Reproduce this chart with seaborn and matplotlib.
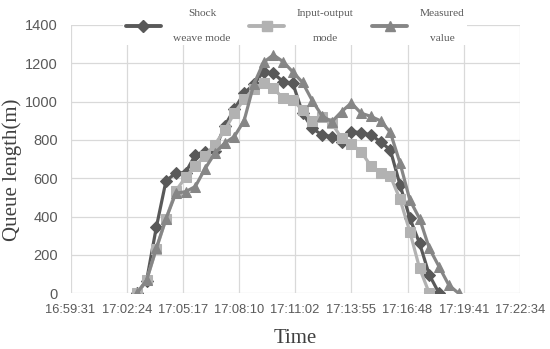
import matplotlib
matplotlib.use("Agg")
import matplotlib.pyplot as plt
import seaborn as sns
import pandas as pd
from matplotlib.lines import Line2D

# ---------------- data ----------------
times = ["17:02:55", "17:03:25", "17:03:55", "17:04:25", "17:04:55", "17:05:25",
         "17:05:55", "17:06:25", "17:06:55", "17:07:25", "17:07:55", "17:08:25",
         "17:08:55", "17:09:25", "17:09:55", "17:10:25", "17:10:55", "17:11:25",
         "17:11:55", "17:12:25", "17:12:55", "17:13:25", "17:13:55", "17:14:25",
         "17:14:55", "17:15:25", "17:15:55", "17:16:25", "17:16:55", "17:17:25",
         "17:17:55", "17:18:25", "17:18:55", "17:19:25"]

shock_wave = [0, 65, 344, 588, 626, 630, 722, 739, 745, 873, 960, 1044, 1090, 1157,
              1148, 1105, 1096, 941, 861, 826, 818, 791, 844, 838, 826, 791, 748,
              565, 392, 261, 96, 0]
input_output = [0, 68, 231, 388, 535, 605, 665, 718, 776, 850, 940, 1012, 1068, 1096,
                1070, 1018, 1009, 955, 900, 922, 888, 809, 778, 739, 665, 630, 612,
                490, 322, 131, 0]
measured = [0, 68, 235, 390, 522, 530, 557, 650, 731, 783, 818, 900, 1090, 1205,
            1244, 1209, 1155, 1100, 1005, 926, 895, 948, 993, 940, 923, 900, 840,
            679, 487, 390, 235, 139, 43, 0]

x_tick_labels = ["16:59:31", "17:02:24", "17:05:17", "17:08:10", "17:11:02",
                 "17:13:55", "17:16:48", "17:19:41", "17:22:34"]
y_ticks = [0, 200, 400, 600, 800, 1000, 1200, 1400]

series_names = ["Shock\n\nweave mode", "Input-output\n\nmode", "Measured\n\nvalue"]


def to_sec(s):
    h, m, sec = s.split(":")
    return int(h) * 3600 + int(m) * 60 + int(sec)


t_sec = [to_sec(t) for t in times]
tick_sec = [to_sec(t) for t in x_tick_labels]

# ---------------- styling ----------------
sns.set_theme(style="white")
plt.rcParams["font.family"] = ["Liberation Sans", "DejaVu Sans"]

fig = plt.figure(figsize=(5.5, 3.49), dpi=100)
ax = fig.add_axes([70.5 / 550, 1 - 293.3 / 349, (520 - 70.5) / 550, (293.3 - 25) / 349])

styles = [
    dict(values=shock_wave, color="#595959", marker="D", ms=6.3),
    dict(values=input_output, color="#B2B2B2", marker="s", ms=7.2),
    dict(values=measured, color="#868686", marker="^", ms=7.8),
]

handles = []
for name, st in zip(series_names, styles):
    n = len(st["values"])
    df = pd.DataFrame({"t": t_sec[:n], "v": st["values"]})
    sns.lineplot(data=df, x="t", y="v", ax=ax, color=st["color"], linewidth=2.3,
                 marker=st["marker"], markersize=st["ms"],
                 markeredgecolor=st["color"], markerfacecolor=st["color"],
                 estimator=None, sort=False)
    handles.append(Line2D([0], [0], color=st["color"], lw=2.8, marker=st["marker"],
                          markersize=st["ms"], markeredgecolor=st["color"],
                          markerfacecolor=st["color"]))

ax.set_xlim(tick_sec[0], tick_sec[-1])
ax.set_ylim(0, 1400)
ax.set_xticks(tick_sec)
ax.set_xticklabels(x_tick_labels, fontsize=9.3, color="#595959")
ax.set_yticks(y_ticks)
ax.set_yticklabels([str(v) for v in y_ticks], fontsize=10.5, color="#595959")
ax.tick_params(axis="both", length=0)
ax.tick_params(axis="x", pad=8)
ax.tick_params(axis="y", pad=9)

ax.grid(True, color="#D9D9D9", linewidth=0.9)
ax.set_axisbelow(True)
for sp in ax.spines.values():
    sp.set_visible(False)

serif = ["Liberation Serif", "DejaVu Serif"]
ax.set_xlabel("Time", fontsize=15, family=serif, color="#404040", labelpad=9)
ax.set_ylabel("Queue length(m)", fontsize=15, family=serif, color="#404040")
ax.yaxis.set_label_coords((22 - 70.5) / 449.5, 0.46)

leg = ax.legend(handles, series_names, ncol=3, loc="center",
                bbox_to_anchor=(295 / 550, 1 - 26 / 349),
                bbox_transform=fig.transFigure,
                frameon=True, facecolor="white", edgecolor="none", framealpha=1,
                prop={"family": serif, "size": 8.2},
                handlelength=3.1, handletextpad=1.1, columnspacing=1.6,
                borderpad=0.2, fancybox=False)
for txt in leg.get_texts():
    txt.set_multialignment("center")
    txt.set_linespacing(1.45)
    txt.set_color("#595959")

fig.savefig("out.png", dpi=100)
